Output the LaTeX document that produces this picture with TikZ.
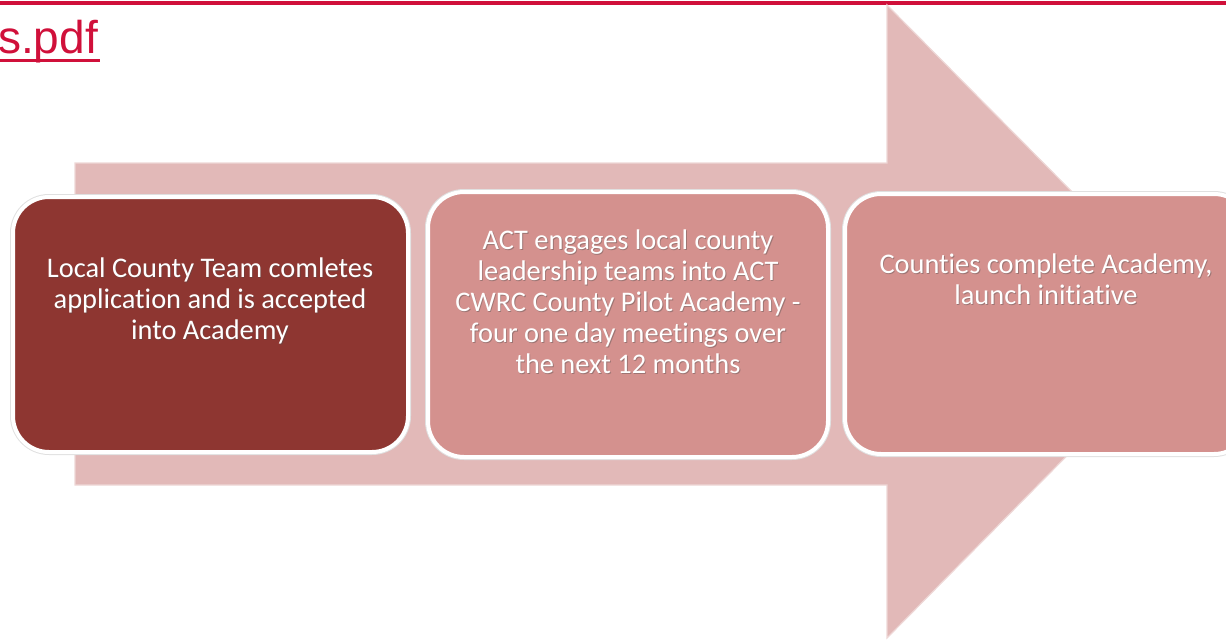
\documentclass[tikz,border=0pt]{standalone}
\usepackage{fontspec}
\setmainfont{Carlito}[Ligatures=NoCommon]
\newfontfamily\linkfont{Liberation Sans}
\definecolor{arrowpink}{RGB}{226,185,184}
\definecolor{arrowedge}{RGB}{238,215,214}
\definecolor{darkred}{RGB}{142,54,49}
\definecolor{midpink}{RGB}{212,145,142}
\definecolor{linkred}{RGB}{208,16,58}
\tikzset{
  boxhalo/.style={draw=black!12, line width=6pt, rounded corners=36pt},
  stepbox/.style={draw=white, line width=4pt, rounded corners=36pt},
  steptext/.style={text=white, align=center, font=\fontsize{28.4}{31}\selectfont, inner sep=0pt},
  textshadow/.style={steptext, text=black!70, opacity=0.4},
}
\begin{document}
\begin{tikzpicture}[x=1pt,y=-1pt]
\useasboundingbox (0,0) rectangle (1226,640);
% link remnants at top
\draw[linkred, line width=4pt] (0,2.7) -- (1226,2.7);
\node[anchor=base west, inner sep=0pt, text=linkred, font=\linkfont\fontsize{46}{50}\selectfont] (link) at (-2,53) {s.pdf};
\draw[linkred, line width=3pt] (0,60.5) -- (100,60.5);
% big background arrow
\draw[fill=arrowpink, draw=arrowedge, line width=1.2pt]
  (75,163) -- (887,163) -- (887,5) -- (1200,321) -- (887,638) -- (887,485) -- (75,485) -- cycle;
% boxes
\draw[boxhalo] (13,197) rectangle (408,452);
\draw[stepbox, fill=darkred] (13,197) rectangle (408,452);
\draw[boxhalo] (428,192) rectangle (828,457);
\draw[stepbox, fill=midpink] (428,192) rectangle (828,457);
\draw[boxhalo] (845,194) rectangle (1250,454);
\draw[stepbox, fill=midpink] (845,194) rectangle (1250,454);
% texts
\node[textshadow] (t1s) at (210.9,301.9) {Local County Team comletes\\application and is accepted\\into Academy};
\node[steptext] (t1) at (210,301) {Local County Team comletes\\application and is accepted\\into Academy};
\node[textshadow] (t2s) at (628.9,302.9) {ACT engages local county\\leadership teams into ACT\\CWRC County Pilot Academy -\\four one day meetings over\\the next 12 months};
\node[steptext] (t2) at (628,302) {ACT engages local county\\leadership teams into ACT\\CWRC County Pilot Academy -\\four one day meetings over\\the next 12 months};
\node[textshadow] (t3s) at (1046.9,279.9) {Counties complete Academy,\\launch initiative};
\node[steptext] (t3) at (1046,279) {Counties complete Academy,\\launch initiative};
\end{tikzpicture}
\end{document}
